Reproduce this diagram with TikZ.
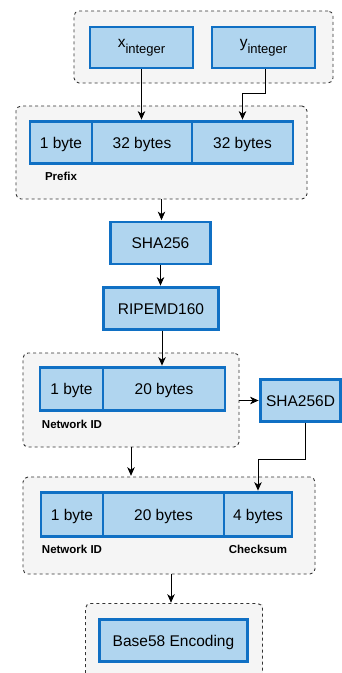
\documentclass[tikz,border=0pt]{standalone}
\usepackage{fontspec}
\setmainfont{Liberation Sans}
\usetikzlibrary{arrows.meta,calc}
\definecolor{bfill}{RGB}{176,213,239}
\definecolor{bbord}{RGB}{16,112,196}
\definecolor{cfill}{RGB}{245,245,245}
\definecolor{cdraw}{RGB}{51,51,51}
\tikzset{
  cont/.style={draw=cdraw, fill=cfill, dash pattern=on 3pt off 3pt, line width=0.9pt, rounded corners=5pt, inner sep=0pt},
  blk/.style={draw=bbord, fill=bfill, line width=2.2pt, inner sep=0pt, font=\fontsize{15.5}{18}\selectfont, text=black, text height=11.2pt, text depth=0pt},
  subblk/.style={draw=bbord, fill=bfill, line width=2.2pt, inner sep=0pt, font=\fontsize{15.5}{18}\selectfont, text=black},
  lbl/.style={font=\bfseries\fontsize{11.5}{13}\selectfont, inner sep=0pt},
  arr/.style={-{Stealth[length=8.5pt,width=7.5pt,inset=2.5pt]}, line width=0.8pt, draw=black, shorten >=0.8pt}
}
\begin{document}
\begin{tikzpicture}[x=1pt,y=-1pt]
\useasboundingbox (0,0) rectangle (342,673);
% containers
\node[cont, minimum width=259pt, minimum height=72pt] (c1) at (203.5,47) {};
\node[cont, minimum width=291pt, minimum height=93pt] (c2) at (161.5,152.5) {};
\node[cont, minimum width=216pt, minimum height=94pt] (c3) at (131,400) {};
\node[cont, minimum width=292pt, minimum height=97pt] (c4) at (169,525.5) {};
\fill[cfill] (85.5,603.5) rectangle (262.5,673);
\draw[cdraw, dash pattern=on 3pt off 3pt, line width=0.9pt, rounded corners=5pt] (85.5,673) -- (85.5,603.5) -- (262.5,603.5) -- (262.5,673);
\coordinate (c5n) at (174,603.5);
% top inputs
\node[subblk, minimum width=103pt, minimum height=41pt] (xi) at (141.5,47.5) {x\raisebox{-0.38em}{\fontsize{13}{13}\selectfont integer}};
\node[subblk, minimum width=103pt, minimum height=41pt] (yi) at (263.5,47.5) {y\raisebox{-0.38em}{\fontsize{13}{13}\selectfont integer}};
% prefix row
\node[blk, minimum width=62pt, minimum height=42pt] (b1a) at (61,142.5) {1 byte};
\node[blk, minimum width=100pt, minimum height=42pt] (b32a) at (142,142.5) {32 bytes};
\node[blk, minimum width=101pt, minimum height=42pt] (b32b) at (242.5,142.5) {32 bytes};
\node[lbl] (lp) at (61,176) {Prefix};
% hashes
\node[blk, minimum width=100pt, minimum height=42pt] (sha) at (160.5,243) {SHA256};
\node[blk, minimum width=115pt, minimum height=42pt] (rip) at (161,308.5) {RIPEMD160};
% network id row
\node[blk, minimum width=63pt, minimum height=43pt] (b1b) at (71.5,389) {1 byte};
\node[blk, minimum width=122pt, minimum height=43pt] (b20b) at (164,389) {20 bytes};
\node[lbl] (ln1) at (72,424) {Network ID};
\node[blk, minimum width=80pt, minimum height=42pt] (sd) at (300.5,400.5) {SHA256D};
% final row
\node[blk, minimum width=62pt, minimum height=44pt] (b1c) at (72,514.5) {1 byte};
\node[blk, minimum width=121pt, minimum height=44pt] (b20c) at (163.5,514.5) {20 bytes};
\node[blk, minimum width=68pt, minimum height=44pt] (b4) at (258,514.5) {4 bytes};
\node[lbl] (ln2) at (72,549) {Network ID};
\node[lbl] (lc) at (258,549) {Checksum};
% base58
\node[blk, minimum width=148pt, minimum height=42pt] (b58) at (173.5,640.5) {Base58 Encoding};
% arrows
\draw[arr] (xi.south) -- (xi.south |- b32a.north);
\draw[arr] ([xshift=1.5pt]yi.south) -- ++(0,24) -| (b32b.north);
\draw[arr] (c2.south) -- (c2.south |- sha.north);
\draw[arr] (sha.south) -- (sha.south |- rip.north);
\draw[arr] ([xshift=1pt]rip.south) -- ([xshift=1pt]rip.south |- b20b.north);
\draw[arr] (c3.east |- sd.west) -- (sd.west);
\draw[arr] ([xshift=4.5pt]sd.south) -- ++(0,37) -| (b4.north);
\draw[arr] (c3.south) -- (c3.south |- c4.north);
\draw[arr] ([xshift=2pt]c4.south) -- ([xshift=2pt]c4.south |- c5n);
\end{tikzpicture}
\end{document}
